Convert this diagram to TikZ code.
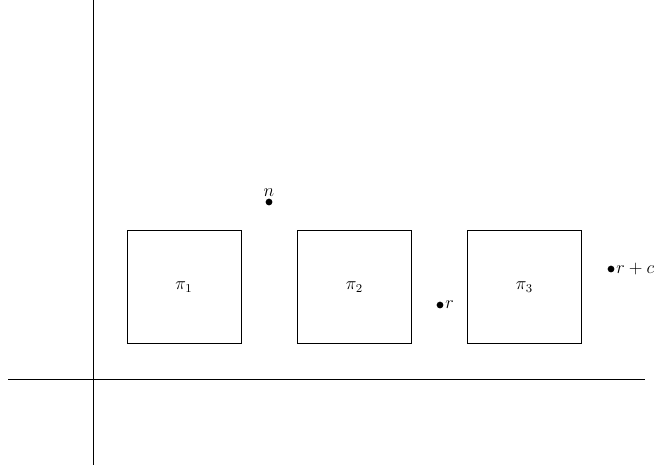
\documentclass[tikz,border=0pt]{standalone}
\begin{document}
\begin{tikzpicture}[x=0.667pt,y=-0.667pt,
  lbl/.style={font=\fontsize{12}{14}\selectfont},
  blk/.style={draw,lbl,minimum width=76pt,minimum height=75pt,inner sep=0pt},
  pt/.style={circle,fill,inner sep=0pt,minimum size=4.5pt}]
\useasboundingbox (0,0) rectangle (658,469);
\coordinate (ya) at (93,0);
\coordinate (yb) at (93,465);
\coordinate (xa) at (8,379);
\coordinate (xb) at (645,379);
\draw (ya) -- (yb);
\draw (xa) -- (xb);
\node[blk] (p1) at (184,287) {$\pi_1$};
\node[blk] (p2) at (354.5,287) {$\pi_2$};
\node[blk] (p3) at (524.5,287) {$\pi_3$};
\node[pt] (n) at (269,202) {};
\node[lbl,anchor=south,inner sep=1pt] (nl) at (n.north) {$n$};
\node[pt] (r) at (440,305) {};
\node[lbl,anchor=west,inner sep=1pt] (rl) at (r.east) {$r$};
\node[pt] (rc) at (611,269) {};
\node[lbl,anchor=west,inner sep=1pt] (rcl) at (rc.east) {$r+c$};
\end{tikzpicture}
\end{document}
